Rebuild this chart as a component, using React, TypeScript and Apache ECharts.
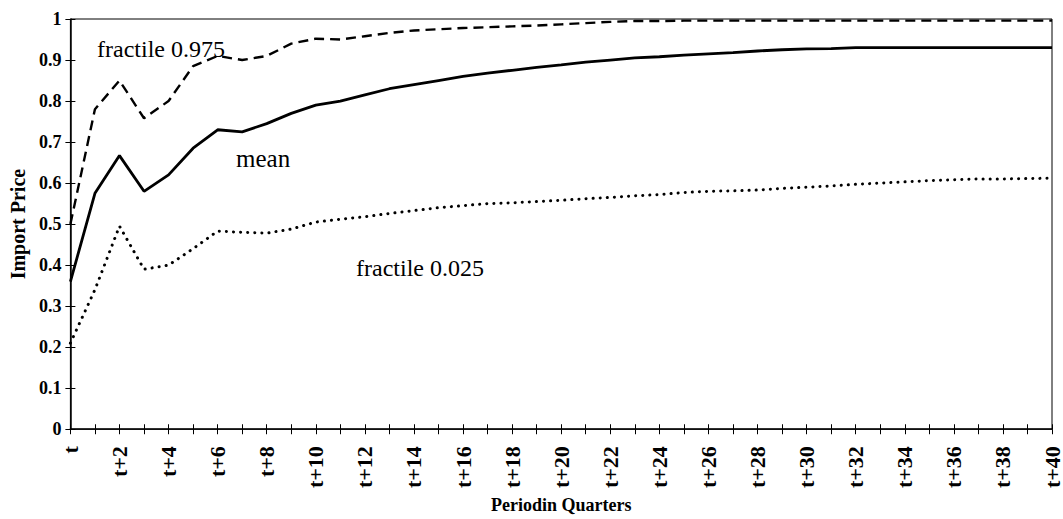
import React, { useEffect, useRef } from "react";
import * as echarts from "echarts";

const categories: string[] = Array.from({ length: 41 }, (_, i) => (i === 0 ? "t" : `t+${i}`));

const upperFractile: number[] = [
  0.5, 0.78, 0.85, 0.758, 0.8, 0.885, 0.91, 0.9, 0.91, 0.94, 0.952,
  0.95, 0.958, 0.966, 0.972, 0.975, 0.978, 0.98, 0.982, 0.984, 0.987,
  0.99, 0.993, 0.995, 0.995, 0.996, 0.996, 0.996, 0.996, 0.996, 0.996,
  0.996, 0.996, 0.996, 0.996, 0.996, 0.996, 0.996, 0.996, 0.996, 0.996,
];

const meanValues: number[] = [
  0.36, 0.575, 0.667, 0.58, 0.62, 0.685, 0.73, 0.725, 0.745, 0.77, 0.79,
  0.8, 0.815, 0.83, 0.84, 0.85, 0.86, 0.868, 0.875, 0.882, 0.888,
  0.895, 0.9, 0.905, 0.908, 0.912, 0.915, 0.918, 0.922, 0.925, 0.927,
  0.928, 0.93, 0.93, 0.93, 0.93, 0.93, 0.93, 0.93, 0.93, 0.93,
];

const lowerFractile: number[] = [
  0.21, 0.34, 0.495, 0.39, 0.4, 0.44, 0.483, 0.48, 0.478, 0.488, 0.505,
  0.512, 0.518, 0.526, 0.533, 0.54, 0.545, 0.55, 0.552, 0.555, 0.558,
  0.562, 0.565, 0.569, 0.572, 0.577, 0.58, 0.581, 0.583, 0.587, 0.59,
  0.593, 0.597, 0.6, 0.603, 0.606, 0.608, 0.61, 0.61, 0.611, 0.612,
];

const yTickLabels: Record<number, string> = {
  0: "0", 0.1: "0.1", 0.2: "0.2", 0.3: "0.3", 0.4: "0.4", 0.5: "0.5",
  0.6: "0.6", 0.7: "0.7", 0.8: "0.8", 0.9: "0.9", 1: "1",
};

const annotations = [
  { text: "fractile 0.975", left: 97, top: 37, size: 24 },
  { text: "mean", left: 236, top: 146, size: 25 },
  { text: "fractile 0.025", left: 356, top: 256, size: 24 },
];

const FONT = "'Liberation Serif', 'Times New Roman', serif";

export default function App() {
  const ref = useRef<HTMLDivElement>(null);
  useEffect(() => {
    if (!ref.current) return;
    const chart = echarts.init(ref.current, null, { renderer: "svg" });
    const xCommon = {
      type: "category" as const,
      data: categories,
      boundaryGap: false,
      position: "bottom" as const,
    };
    const yCommon = {
      type: "value" as const,
      min: 0,
      max: 1,
      interval: 0.1,
      position: "left" as const,
    };
    chart.setOption({
      animation: false,
      backgroundColor: "#ffffff",
      grid: {
        left: 68,
        right: 7,
        top: 19,
        bottom: 81,
        show: true,
        borderColor: "#000",
        borderWidth: 1,
        backgroundColor: "transparent",
      },
      xAxis: [
        {
          ...xCommon,
          name: "Periodin Quarters",
          nameLocation: "middle",
          nameGap: 74,
          nameTextStyle: { fontFamily: FONT, fontWeight: "bold", fontSize: 18, color: "#000", verticalAlign: "middle" },
          axisLine: { lineStyle: { color: "#000", width: 1.5 } },
          axisTick: { show: true, inside: false, length: 5, interval: 0, lineStyle: { color: "#000" } },
          axisLabel: {
            interval: 1,
            rotate: 90,
            margin: 17,
            fontFamily: FONT,
            fontWeight: "bold",
            fontSize: 22,
            color: "#000",
          },
          splitLine: { show: false },
        },
        {
          ...xCommon,
          axisLine: { show: false },
          axisTick: { show: true, inside: true, length: 5, interval: 0, lineStyle: { color: "#000" } },
          axisLabel: { show: false },
          splitLine: { show: false },
        },
      ],
      yAxis: [
        {
          ...yCommon,
          name: "Import Price",
          nameLocation: "middle",
          nameGap: 50,
          nameTextStyle: { fontFamily: FONT, fontWeight: "bold", fontSize: 20, color: "#000", verticalAlign: "middle" },
          axisLine: { show: true, lineStyle: { color: "#000", width: 1.5 } },
          axisTick: { show: true, inside: false, length: 5, lineStyle: { color: "#000" } },
          axisLabel: {
            margin: 9,
            fontFamily: FONT,
            fontWeight: "bold",
            fontSize: 18,
            color: "#000",
            formatter: (v: number) => yTickLabels[Math.round(v * 10) / 10] ?? String(v),
          },
          splitLine: { show: false },
        },
        {
          ...yCommon,
          axisLine: { show: false },
          axisTick: { show: true, inside: true, length: 5, lineStyle: { color: "#000" } },
          axisLabel: { show: false },
          splitLine: { show: false },
        },
      ],
      series: [
        {
          name: "fractile 0.975",
          type: "line",
          data: upperFractile,
          symbol: "none",
          lineStyle: { color: "#000", width: 2.4, type: [10, 6] },
        },
        {
          name: "mean",
          type: "line",
          data: meanValues,
          symbol: "none",
          lineStyle: { color: "#000", width: 2.8 },
        },
        {
          name: "fractile 0.025",
          type: "line",
          data: lowerFractile,
          symbol: "none",
          lineStyle: { color: "#000", width: 3, type: [0.1, 7], cap: "round" },
        },
      ],
      graphic: annotations.map((a) => ({
        type: "text",
        left: a.left,
        top: a.top,
        style: { text: a.text, fontFamily: FONT, fontSize: a.size, fill: "#000" },
      })),
    });
    return () => chart.dispose();
  }, []);
  return (
    <div
      ref={ref}
      style={{ position: "absolute", left: 0, top: 0, width: 1063, height: 519 }}
    />
  );
}
